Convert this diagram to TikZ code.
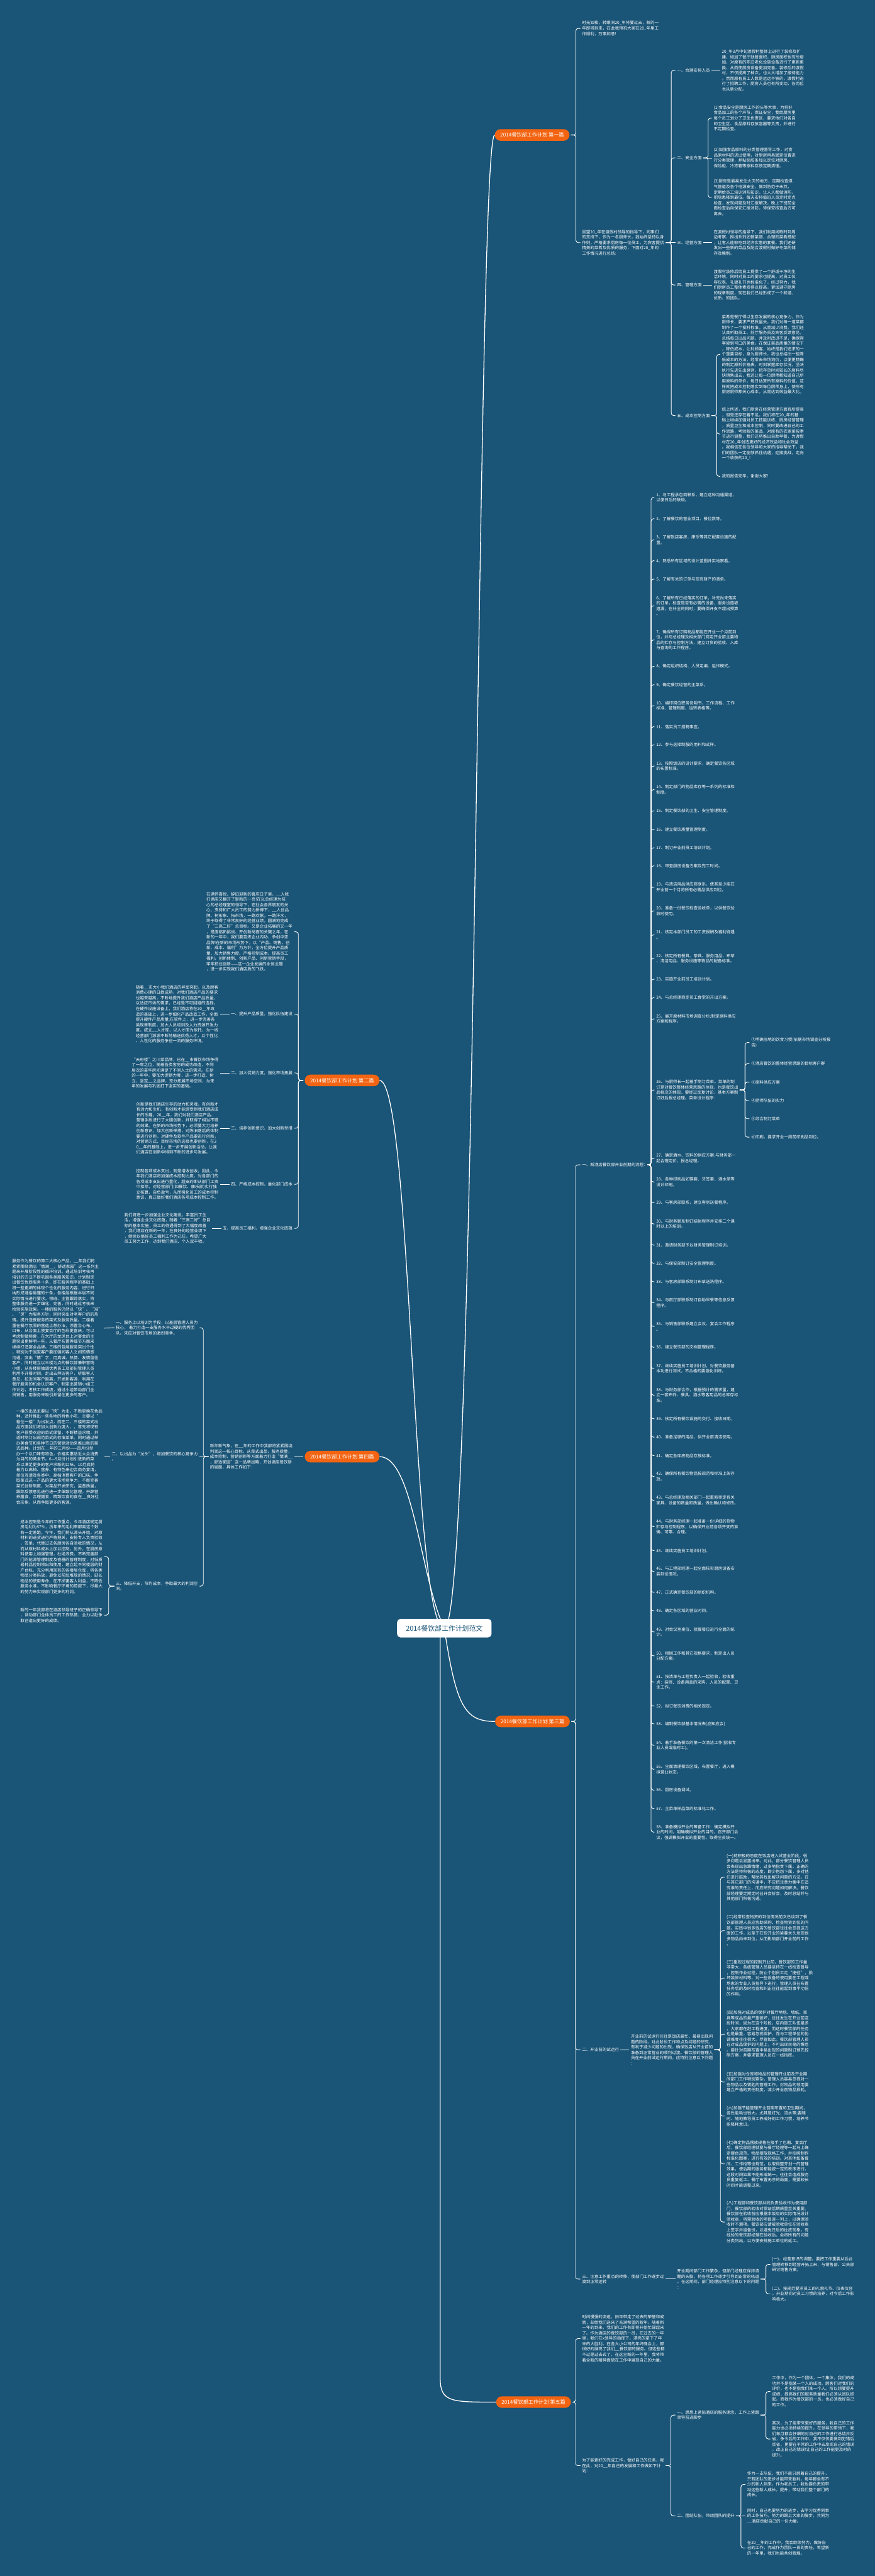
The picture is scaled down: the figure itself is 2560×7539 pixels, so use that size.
\documentclass[tikz,border=0pt]{standalone}
\usepackage{fontspec}
\newfontfamily\cjk{Noto Sans CJK SC}
\usetikzlibrary{calc}
\pgfdeclarelayer{bg}
\pgfsetlayers{bg,main}
\definecolor{bgc}{RGB}{26,84,118}
\definecolor{org}{RGB}{243,100,18}
\newcommand\linkR[3]{\draw[br] ([xshift=4pt]#1.east) -- (#2 |- #1.east) -- (#2 |- #3.west) -- ([xshift=-5pt]#3.west);}
\newcommand\linkL[3]{\draw[br] ([xshift=-4pt]#1.west) -- (#2 |- #1.west) -- (#2 |- #3.east) -- ([xshift=5pt]#3.east);}
\newcommand\dirR[2]{\draw[br] ([xshift=4pt]#1.east) -- ([xshift=-5pt]#2.west);}
\newcommand\dirL[2]{\draw[br] ([xshift=-4pt]#1.west) -- ([xshift=5pt]#2.east);}
\begin{document}
\begin{tikzpicture}[x=1pt,y=-1pt,
 txt/.style={font=\cjk\fontsize{12}{15.7}\selectfont,text=white,align=left,inner sep=0pt},
 tR/.style={txt,anchor=west},
 tL/.style={txt,anchor=east},
 hub/.style={fill=org,text=white,rounded corners=17pt,minimum height=34pt,inner xsep=16pt,inner ysep=0pt,font=\cjk\fontsize{15}{18}\selectfont},
 rootn/.style={fill=white,text=bgc,rounded corners=10pt,minimum height=54pt,inner xsep=26pt,font=\cjk\fontsize{20}{24}\selectfont},
 br/.style={draw=white,line width=1.6pt,rounded corners=7pt},
 mainln/.style={draw=white,line width=2.4pt}]
\begin{pgfonlayer}{bg}
\fill[bgc] (0,0) rectangle (2560,7539);
\end{pgfonlayer}
\useasboundingbox (0,0) rectangle (2560,7539);

% ---------------- root and hubs
\node[rootn] (root) at (1300,4765) {2014餐饮部工作计划范文};
\node[hub] (h1) at (1557,395) {2014餐饮部工作计划 第一篇};
\node[hub] (h3) at (1558,5038) {2014餐饮部工作计划 第三篇};
\node[hub] (h5) at (1561,7030) {2014餐饮部工作计划 第五篇};
\node[hub] (h2) at (1001,3162) {2014餐饮部工作计划 第二篇};
\node[hub] (h4) at (1001,4263) {2014餐饮部工作计划 第四篇};

% ---------------- section 1
\coordinate (b1) at (1685,0);
\coordinate (b1b) at (1964,0);
\coordinate (b12) at (2072,0);
\coordinate (b15) at (2097,0);
\node[tR] (s1a) at (1703,83) {时光如梭，转眼间20\_年将要过去，新的一\\年即将到来，在此我预祝大家在20\_年里工\\作顺利，万事如意!};
\node[tR] (s1b) at (1703,710) {回望20\_年在渡假村领导的指导下，同事们\\的支持下，作为一名厨师长，我始终坚持以身\\作则，严格要求厨房每一位员工，为宾客提供\\精美的菜肴及优质的服务，下面对20\_年的\\工作情况进行总结:};
\node[tR] (l11) at (1981,206) {一、合理安排人员};
\node[tR] (l12) at (1981,462) {二、安全方面};
\node[tR] (l13) at (1981,710) {三、经营方面};
\node[tR] (l14) at (1981,834) {四、管理方面};
\node[tR] (l15) at (1981,1216) {五、成本控制方面};
\node[tR] (d11) at (2112,206) {20\_年3月中旬渡假村整体上进行了装修及扩\\建，增加了餐厅就餐面积，厨房面积也有所增\\加，对原有的陈旧老化设施设备进行了更新更\\换，从而使厨房设备更加完善。装修后的渡假\\村，不仅提高了档次，也大大增加了接待能力\\。然而原有员工人数是远远不够的，渡假村进\\行了招聘工作，厨房人员也有所变动，各岗位\\也从新分配。};
\node[tR] (d12a) at (2088,346) {(1)食品安全是厨房工作的头等大事，为把好\\食品加工的各个环节，保证安全，我给厨房里\\每个员工划分了卫生负责区，要求他们对各自\\的卫生区、食品原料存放容器等负责，并进行\\不定期检查。};
\node[tR] (d12b) at (2088,462) {(2)加强食品原料的分类管理督导工作，对食\\品原材料的进出使用，对厨房用具固定位置进\\行分类管理，并粘贴胶条加以定位对厨房、\\保险柜、冷冻箱等原料存放定期清理。};
\node[tR] (d12c) at (2088,578) {(3)厨房是最易发生火灾的地方，定期检查煤\\气管道及各个电源安全，做到防范于未然，\\定期给员工培训消防知识，让人人都做消防，\\把隐患降到最低。每天安排值班人员定时定点\\检查，发现问题及时汇报解决，晚上下班前全\\面检查后向保安汇报消防，待保安核查后方可\\离去。};
\node[tR] (d13) at (2088,710) {在渡假村领导的指导下，我们利用闲暇时到周\\边考察，推出系列团餐菜谱，合理的菜肴搭配\\，让客人能够吃到经济实惠的套餐。我们还研\\发出一些新的菜品及配合渡假村做好冬菜的储\\存及腌制。};
\node[tR] (d14) at (2088,834) {渡假村装修后给员工提供了一个舒适干净的生\\活环境，同时对员工的要求也提高，对员工仪\\容仪表、礼貌礼节也标准化了，经过努力，我\\们厨房员工整体素质得以提高，更加遵守厨房\\的规章制度，现在我们已经形成了一个和谐、\\优质、的团队。};
\node[tR] (d15a) at (2112,1037) {菜肴是餐厅得以生存发展的核心竞争力，作为\\厨师长，要求严把质量关。我们对每一道菜都\\制作了一个投料标准，从而减少浪费。我们还\\认真听取员工、前厅服务员及宾客反馈意见，\\总结每日出品问题，并及时改进不足，确保宾\\客尝到可口的美食。在保证菜品质量的情况下\\，降低成本，让利顾客，始终是我们追求的一\\个重要目标，身为厨师长，我也总结出一些降\\低成本的方法，经常去市场询价，以便更精确\\的制定原料价格表，时刻掌握库存状况，坚决\\执行先进先出原则，把存货时间较长的原料尽\\快销售出去，我还让每一位厨师都知道自己所\\用原料的单价，每日估算所有原料的价值，这\\样就把成本控制落实到每位厨师身上，使所有\\厨房厨师都关心成本，从而达到效益最大化。};
\node[tR] (d15b) at (2112,1270) {综上所述，我们厨房在经营管理方面有所提高\\，但是还存在着不足。我们将在20\_年的基\\础上继续加强对员工技能训练、厨房经营管理\\，质量卫生和成本控制，同时要改进自己的工\\作思路，考验新的菜品，对原有的农家菜按季\\节进行调整，我们还将推出自助早餐，为渡假\\村在20\_年创造更好的经济效益和社会效益\\。我相信在各位领导和大家的指导帮助下，我\\们的团队一定能够抓住机遇，迎接挑战，走向\\一个收获的20\_!};
\node[tR] (d15c) at (2112,1394) {我的报告完毕，谢谢大家!};

% ---------------- section 3
\coordinate (b3) at (1684,0);
\coordinate (b31) at (1905,0);
\coordinate (b26) at (2180,0);
\coordinate (b32) at (2108,0);
\coordinate (b33) at (2241,0);
\node[tR] (l31) at (1703,3409) {一、新酒店餐饮部开业前期的流程：};
\node[tR] (i1) at (1920,1456) {1、与工程承包商联系，建立这种沟通渠道，\\以便日后的联络。};
\node[tR] (i2) at (1920,1518) {2、了解餐饮的营业项目、餐位数等。};
\node[tR] (i3) at (1920,1580) {3、了解饭店客房、康乐等其它配套设施的配\\置。};
\node[tR] (i4) at (1920,1641) {4、熟悉所有区域的设计蓝图并实地察看。};
\node[tR] (i5) at (1920,1695) {5、了解有关的订单与现有财产的清单。};
\node[tR] (i6) at (1920,1773) {6、了解所有已经落实的订单，补充尚未落实\\的订单，检查是否有必需的设备、服务设施被\\遗漏，在补全的同时，要确保开支不超出预算\\。};
\node[tR] (i7) at (1920,1873) {7、确保所有订购物品都能在开业一个月前到\\位，并与总经理及相关部门商定开业前主要物\\品的贮存与控制方法，建立订货的验收、入库\\与查询的工作程序。};
\node[tR] (i8) at (1920,1950) {8、确定组织结构、人员定编、运作模式。};
\node[tR] (i9) at (1920,2004) {9、确定餐饮经营的主菜系。};
\node[tR] (i10) at (1920,2065) {10、编印岗位职务说明书、工作流程、工作\\标准、管理制度、运转表格等。};
\node[tR] (i11) at (1920,2127) {11、落实员工招聘事宜。};
\node[tR] (i12) at (1920,2180) {12、参与选择制服的用料和式样。};
\node[tR] (i13) at (1920,2242) {13、按照饭店的设计要求，确定餐饮各区域\\的布置标准。};
\node[tR] (i14) at (1920,2311) {14、制定部门的物品库存等一系列的标准和\\制度。};
\node[tR] (i15) at (1920,2373) {15、制定餐饮部的卫生、安全管理制度。};
\node[tR] (i16) at (1920,2427) {16、建立餐饮质量管理制度。};
\node[tR] (i17) at (1920,2481) {17、制订开业前员工培训计划。};
\node[tR] (i18) at (1920,2534) {18、审查厨房设备方案及完工时间。};
\node[tR] (i19) at (1920,2596) {19、与清洁用品供应商联系，使其至少能在\\开业前一个月将所有必需品供应到位。};
\node[tR] (i20) at (1920,2666) {20、准备一份餐饮检查验收单，以供餐饮验\\收时使用。};
\node[tR] (i21) at (1920,2736) {21、核定本部门员工的工资报酬及福利待遇\\。};
\node[tR] (i22) at (1920,2805) {22、核定所有餐具、茶具、服务用品、布草\\、清洁用品、服务设施等物品的配备标准。};
\node[tR] (i23) at (1920,2866) {23、实施开业前员工培训计划。};
\node[tR] (i24) at (1920,2920) {24、与总经理商定员工食堂的开出方案。};
\node[tR] (i25) at (1920,2982) {25、展开原材料市场调查分析;制定原料供应\\方案和程序。};
\node[tR] (i26) at (1920,3190) {26、与厨师长一起着手制订菜单。菜单的制\\订是对餐饮整体经营思路的体现，也是餐饮出\\品档次的体现，要经过反复讨论，基本方案制\\订好后报总经理。菜单设计程序：};
\node[tR] (m1) at (2198,3051) {①明确当地的饮食习惯(依据市场调查分析报\\告)};
\node[tR] (m2) at (2198,3113) {②酒店餐饮的整体经营思路的目标客户群};
\node[tR] (m3) at (2198,3167) {③原料供应方案};
\node[tR] (m4) at (2198,3221) {④厨师队伍的实力};
\node[tR] (m5) at (2198,3274) {⑤综合制订菜单};
\node[tR] (m6) at (2198,3328) {⑥印刷。要求开业一周前印刷品到位。};
\node[tR] (i27) at (1920,3390) {27、确定酒水、饮料的供应方案;与财务部一\\起合理定价，报总经理。};
\node[tR] (i28) at (1920,3459) {28、各种印刷品如筷套、牙签套、酒水单等\\设计印刷。};
\node[tR] (i29) at (1920,3520) {29、与客房部联系，建立客房送餐程序。};
\node[tR] (i30) at (1920,3582) {30、与财务联系制订结帐程序并安排二个课\\时以上的培训。};
\node[tR] (i31) at (1920,3644) {31、邀请财务部予以财务管理制订培训。};
\node[tR] (i32) at (1920,3697) {32、与保安部制订安全管理制度。};
\node[tR] (i33) at (1920,3751) {33、与客房部联系制订布草送洗程序。};
\node[tR] (i34) at (1920,3813) {34、与前厅部联系制订自助早餐等信息反馈\\程序。};
\node[tR] (i35) at (1920,3882) {35、与销售部联系建立会议、宴会工作程序\\。};
\node[tR] (i36) at (1920,3943) {36、建立餐饮部的文档管理程序。};
\node[tR] (i37) at (1920,4005) {37、继续实施员工培训计划。对餐饮服务基\\本功进行测试，不合格的要强化训练。};
\node[tR] (i38) at (1920,4083) {38、与财务部合作，根据预计的需求量，建\\立一套布件、餐具、酒水等客用品的总库存标\\准。};
\node[tR] (i39) at (1920,4152) {39、核定所有餐饮设施的交付、接收日期。};
\node[tR] (i40) at (1920,4206) {40、准备足够的用品，供开业前清洁使用。};
\node[tR] (i41) at (1920,4260) {41、确定各库房物品存放标准。};
\node[tR] (i42) at (1920,4321) {42、确保所有餐饮物品按规范和标准上架存\\放。};
\node[tR] (i43) at (1920,4391) {43、与总经理及相关部门一起重新审定有关\\家具、设备的数量和质量，做出确认和修改。};
\node[tR] (i44) at (1920,4468) {44、与财务部经理一起准备一份详细的货物\\贮存与控制程序，以确保开业前各项开支的准\\确、可靠、合理。};
\node[tR] (i45) at (1920,4538) {45、继续实施员工培训计划。};
\node[tR] (i46) at (1920,4599) {46、与工程部经理一起全面核实厨房设备安\\装到位情况。};
\node[tR] (i47) at (1920,4660) {47、正式确定餐饮部的组织机构。};
\node[tR] (i48) at (1920,4714) {48、确定各区域的营业时间。};
\node[tR] (i49) at (1920,4776) {49、对会议室桌位、就餐餐位进行全面的统\\计。};
\node[tR] (i50) at (1920,4846) {50、根据工作和其它规格要求，制定出人员\\分配方案。};
\node[tR] (i51) at (1920,4923) {51、按清单与工程负责人一起验收，验收重\\点：装修、设备用品的采购、人员的配置、卫\\生工作。};
\node[tR] (i52) at (1920,4993) {52、拟订餐饮消费的相关规定。};
\node[tR] (i53) at (1920,5045) {53、编制餐饮部基本情况表(应知应会)};
\node[tR] (i54) at (1920,5108) {54、着手准备餐饮的第一次清洁工作(招收专\\业人员或临时工)。};
\node[tR] (i55) at (1920,5178) {55、全面清理餐饮区域，布置餐厅，进入模\\拟营业状态。};
\node[tR] (i56) at (1920,5239) {56、厨房设备调试。};
\node[tR] (i57) at (1920,5293) {57、主菜单样品菜的标准化工作。};
\node[tR] (i58) at (1920,5362) {58、准备模拟开业的筹备工作：确定模拟开\\业的时间，明确模拟开业的目的，召开部门会\\议，强调模拟开业的重要性。取得全员统一。};

\node[tR] (l32) at (1703,5999) {二、开业前的试运行};
\node[tR] (d32) at (1846,5999) {开业前的试运行往往是饭店最忙、最易出现问\\题的阶段。对此阶段工作特点及问题的研究，\\有利于减少问题的出现，确保饭店从开业前的\\准备到正常营业的顺利过渡。餐饮部的管理人\\员在开业前试运行期间，应特别注意以下问题\\：};
\node[tR] (c1) at (2126,5494) {(一)持积极的态度在饭店进入试营业阶段，很\\多问题会显露出来。对此，部分餐饮管理人员\\会表现出急躁情绪，过多地指责下属。正确的\\方法是持积极的态度，即少抱怨下属，多对他\\们进行鼓励，帮助其找出解决问题的方法。在\\与其它部门的沟通中，不应把注意力集中在追\\究谁的责任上，而应研究问题如何解决。餐饮\\部经理要定期定时召开会析会，及时总结并与\\其他部门积极沟通。};
\node[tR] (c2) at (2126,5650) {(二)经常检查物资的到位情况前文已谈到了餐\\饮部管理人员应协助采购、检查物资到位的问\\题。实践中很多饭店的餐饮部往往会忽视这方\\面的工作，以至于在快开业的紧要关头发现很\\多物品尚未到位，从而影响部门开业前的工作\\。};
\node[tR] (c3) at (2126,5789) {(三)重视过程的控制开业前，餐饮部的工作量\\非常大，各级管理人员要坚持在一线检查督导\\，控制作业过程，防止个别员工走“捷径”，损\\坏装修材料等。对一些设备的使用要在工程或\\场家的专业人员指导下进行。管理人员在布置\\任务后的及时检查和纠正往往能起到事半功倍\\的作用。};
\node[tR] (c4) at (2126,5953) {(四)加强对成品的保护对餐厅地毯、墙纸、家\\具等成品的最严重破坏，往往发生在开业前这\\段时间，因为在这个阶段，店内施工队伍最多\\，大家都在赶工程进度，而这时餐饮部的任务\\也是最重，容易忽视保护，而与工程单位的协\\调难度往往很大。尽管如此，餐饮部管理人员\\在对成品保护的问题上，不可出现丝毫的懈怠\\。要针对前期布置中易出现的问题制订预先控\\制方案，并要求管理人员在一线指挥。};
\node[tR] (c5) at (2126,6093) {(五)加强对仓库和物品的管理开业前及开业期\\间部门工作特别繁杂，管理人员容易忽视对一\\些物品以及钥匙的管理工作，对物品的领用要\\建立严格的责任制度，减少开业前物品损耗。};
\node[tR] (c6) at (2126,6193) {(六)加强节能管理开业前期布置和卫生期间，\\各处能耗也很大。尤其是灯光、流水等;要随\\时、随地教导员工养成好的工作习惯，培养节\\能降耗意识。};
\node[tR] (c7) at (2126,6333) {(七)确定物品摆放规格在接手了包厢、宴会厅\\后，餐饮部经理就要与餐厅经理等一起马上确\\定摆台规范、物品摆放规格工作，并拍照制作\\标准化图案，进行有效的培训。对其他如备餐\\间、工作柜等也规范，以取得整齐划一的管理\\效果，使后期的服务都能按一定的秩序进行。\\这段时间如果不能形成统一，往往会造成服务\\员重复返工、餐厅布置无序的局面，需要较长\\时间才能调整过来。};
\node[tR] (c8) at (2126,6503) {(八)工程部和餐饮部共同负责验收作为使用部\\门，餐饮部的验收对保证后期质量至关重要。\\餐饮部在验收前应根据本饭店的实际情况设计\\验收表，将需验收的项目逐一列上，以确保验\\收时不漏项。餐饮部应请被验收单位在验收表\\上签字并留备份，以避免日后的扯皮现象。有\\经验的餐饮部经理在验收后，会将所有的问题\\分类列出，以方便安排施工单位的返工。};

\node[tR] (l33) at (1703,6670) {三、注意工作重点的转移，使部门工作逐步过\\渡到正常运转};
\node[tR] (d33) at (1981,6670) {开业期间部门工作繁杂，但部门经理应保持清\\醒的头脑，将各项工作逐步引导到正常的轨道\\。在这期间，部门经理应特别注意以下的问题\\：};
\node[tR] (e1) at (2259,6627) {(一)、经营意识的调整。要把工作重要从后台\\管理转移到经营开拓上来，与销售部、公关部\\研讨销售方案。};
\node[tR] (e2) at (2259,6713) {(二)、按规范要求员工的礼貌礼节、仪表仪容\\。开业期间对员工习惯的培养，对今后工作影\\响极大。};

% ---------------- section 5
\coordinate (b5) at (1684,0);
\coordinate (b5b) at (1963,0);
\coordinate (b51) at (2241,0);
\coordinate (b52) at (2168,0);
\node[tR] (s5a) at (1703,6844) {时间慢慢的流逝，旧年带走了过去的荣誉和成\\就，却给我们送来了充满希望的新年。随着新\\一年的到来，我们的工作有即将开始忙碌起来\\了。作为酒店的餐饮部的一员，在过去的一年\\里，我们在x领导的指挥下，漂亮的拿下了年\\末的大胜利。在各大小公司的年终晚会上，都\\很好的展现了我们\_\_餐饮部的服务。但这些都\\不过是过去式了，在这全新的一年里，我将带\\着全新的精神面貌在工作中展现自己的力量。};
\node[tR] (s5b) at (1703,7216) {为了能更好的完成工作，做好自己的任务，我\\在此，对20\_\_年自己的发展和工作做如下计\\划：};
\node[tR] (l51) at (1981,7068) {一、思想上紧贴酒店的服务理念，工作上紧跟\\领导前进脚步};
\node[tR] (f1) at (2259,6999) {工作中，作为一个团体，一个集体，我们的成\\功并不是指某一个人的成功。顾客们对我们的\\评价，也不是指我们某一个人。所以想要提升\\成绩，提高我们的服务质量我们必须从团队抓\\起。而我作为餐饮部的一员，也必须做好自己\\的工作。};
\node[tR] (f2) at (2259,7138) {其次，为了能带来更好的服务，我自己的工作\\能力也必须持续的提升。在领导的带领下，我\\们每月都会仔细的对自己的工作进行总结并反\\省，争今后的工作中，我不仅仅要做到犯错后\\反省，更要在平常的工作中去发现自己的错误\\，改正自己的错误!让自己的工作能更及时的\\提升。};
\node[tR] (l52) at (1981,7363) {二、团结队伍，带动团队的提升};
\node[tR] (g1) at (2186,7271) {作为一支队伍，我们不能只顾着自己的提升，\\只有团队的进步才能带来胜利。每年都会有不\\少的新人到来，作为老员工，我也要负责的带\\动这些新人成长，提升，带动我们整个部门的\\成长。};
\node[tR] (g2) at (2186,7363) {同时，自己也要努力的进步，去学习优秀同事\\的工作技巧，努力的跟上大家的脚步，共同为\\\_\_酒店贡献自己的一份力量。};
\node[tR] (g3) at (2186,7457) {在20\_\_年的工作中，我会继续努力，做好自\\己的工作，完成作为团队一员的责任，希望新\\的一年里，我们也能共创辉煌。};

% ---------------- section 2 (left)
\coordinate (b2) at (873,0);
\node[tL] (s2i) at (856,2727) {在满怀喜悦、辞旧迎新的喜庆日子里，\_\_人我\\们酒店又翻开了崭新的一页!在以总经理为核\\心的总经理室的领导下，在社会各界朋友的关\\心、支持和广大员工的努力拼搏下，\_\_人创品\\牌、树形象、拓市场，一路欢歌，一路汗水，\\终于取得了非常良好的经营业绩，圆满地完成\\了“三高二好”总目标。又是企业拓展的又一年\\，是面临新挑战、开创新局面的关键之年，在\\新的一年中，我们要苦炼企业内功，争创中亚\\品牌!在新的市场形势下，以“产品、销售、创\\新、成本、福利”为方针，全方位提升产品质\\量、加大销售力度、严格控制成本、提高员工\\福利，创新体制、创新产品、创新营销手段，\\牢牢抓住创新——这一企业发展的永恒主题\\，进一步实现我们酒店质的飞跃。};
\node[tL] (l21) at (856,2968) {一、提升产品质量，强化队伍建设};
\node[tL] (l22) at (856,3140) {二、加大促销力度，强化市场拓展};
\node[tL] (l23) at (856,3302) {三、培养创新意识，加大创新举措};
\node[tL] (l24) at (856,3466) {四、严格成本控制，量化部门成本};
\node[tL] (l25) at (856,3595) {五、提高员工福利，增强企业文化底蕴};
\node[tL] (d21) at (639,2968) {随着\_\_市大小我们酒店的异军突起，以及顾客\\消费心理的日趋成熟，对我们酒店产品的要求\\也越来越高，不断地提升我们酒店产品质量，\\以适应市场的需求，已经是不可回避的选择。\\在硬件设施设备上，我们酒店将在20\_\_年改\\造的基础上，进一步细化产品改造工作，全面\\提升硬件产品质量;在软件上，进一步完善各\\类规章制度，加大人员培训及人力资源开发力\\度，成立\_\_人才库，以人才库为依托，为一线\\经营部门源源不断地输送优秀人才，以个性化\\、人性化的服务争创一流的服务环境。};
\node[tL] (d22) at (639,3140) {“天府楼”之川菜品牌，已在\_\_市餐饮市场争得\\了一席之位，随着各类客房的成功改造，不同\\层次的豪华房间满足了不同人士的需求。在新\\的一年中，要加大促销力度，进一步打造、树\\立、坚定\_\_之品牌，充分拓展市场空间，为来\\年的发展与巩固打下坚实的基础。};
\node[tL] (d23) at (639,3302) {创新是我们酒店生存的动力和灵魂，有创新才\\有活力和生机，有创新才能感受到我们酒店成\\长的乐趣，20\_\_年，我们对我们酒店产品、\\营销手段进行了大胆创新，并取得了相当不错\\的效果。在新的市场形势下，必须要大力培养\\创新意识，加大创新举措，对陈旧落后的体制\\要进行创新，对硬件及软件产品要进行创新，\\对营销方式、目标市场的选择也要创新，在2\\0\_\_年的基础上，进一步开展创新活动，让我\\们酒店在创新中得到不断的进步与发展。};
\node[tL] (d24) at (639,3466) {控制各项成本支出，就是增收创收，因此，今\\年我们酒店将加强成本控制力度，对各部门的\\各项成本支出进行量化，超支的即从部门工资\\中扣除，对经营部门(如餐饮、康乐部)实行独\\立核算，自负盈亏，从而强化员工的成本控制\\意识，真正做好我们酒店各项成本控制工作。};
\node[tL] (d25) at (616,3595) {我们将进一步加强企业文化建设，丰富员工生\\活，增强企业文化底蕴，随着“三高二好”总目\\标的基本实施，员工的待遇得到了大幅度改善\\，我们酒店在新的一年，在良好的经营业绩下\\，继续以搞好员工福利工作为己任，希望广大\\员工努力工作，达到我们酒店、个人双丰收。};

% ---------------- section 4 (left)
\coordinate (b4) at (595,0);
\coordinate (b43) at (318,0);
\node[tL] (s4) at (856,4263) {新年新气象，在\_\_年的工作中我部将紧紧围绕\\利润这一核心目标，从菜式出品，服务质量，\\成本控制，营销创新等方面着力打造“情满\_\_\\，舒适家园”这一品牌战略，开创酒店餐饮新\\的局面，具体工作如下：};
\node[tL] (l41) at (579,3886) {一、服务上以培训为手段，以基层管理人员为\\核心， 着力打造一支服务水平过硬的优秀团\\队。来应对餐饮市场的激烈竞争。};
\node[tL] (l42) at (579,4263) {二、以出品为“龙头”，增加餐饮的核心竞争力\\。};
\node[tL] (l43) at (579,4642) {三、降低开支，节约成本，争取最大的利润空\\间。};
\node[tL] (d41) at (300,3887) {服务作为餐饮的第二大核心产品，\_\_年我们将\\紧紧围绕酒店“情满\_\_，舒适家园”这一系列主\\题来开展阶段性的循环培训。通过培训考核再\\培训的方法不断巩固各类服务知识。计划制定\\出餐饮优质服务十条，即在服务程序的基础上\\将一些更细的体现个性化的服务内容，进行归\\纳形成通俗易懂的十条，各楼层根据本层不同\\实际情况进行要求。领班、主管跟踪落实，将\\整体服务进一步细化，完善，同时通过考核来\\检验实施效果。一楼的服务仍然以“快”、“准”\\、“灵”为服务方针，同时突出对老客户的的热\\情。提升送餐服务的菜式及服务质量。二楼着\\重在餐厅氛围的营造上想办法，添置台心布，\\口布，从台面上使宴会厅的色彩更喜庆，可以\\考虑制做椅套，在大厅的龙凤台上对宴会的主\\题突出更鲜明一些，从餐厅布置等细节方面来\\继续打造宴会品牌。三楼的包厢服务突出个性\\，特别对于固定客户要加强同客人之间的情感\\沟通，突出“情”字，用真诚、热情、友情留住\\客户，同时建立以三楼为点的餐饮部兼职营销\\小组，从各楼层抽调优秀员工及部份管理人员\\利用不开餐时间，走出去拜访客户，听取客人\\意见，拉近同客户距离，开发新客源，利用在\\餐厅服务的机会认识客户，制定出营销小组工\\作计划，考核工作成绩，通过小组带动部门全\\员销售，用服务来吸引并留住更多的客户。};
\node[tL] (d42) at (300,4263) {一楼的出品主要以“快”为主，不断更换花色品\\种，适时推出一些各地的特色小吃，主要以“\\稳住一楼”为出发点，而在二、三楼的菜式出\\品方面我们将加大创新力度大，，首先将现有\\客户很受欢迎的菜式保留，不断精益求精，并\\适时制订出规范菜式的标准菜单。同时通过举\\办美食节和各种节日的营销活动来推出新的菜\\式品种。计划在\_\_年的三月份——四月份举\\办一个以口味有特色，价格实惠贴近大众消费\\为目的的美食节。6—9月份计划引进新的菜\\系以满足更多的客户求新的口味，10月底将\\着力以高档、营养、有特色来迎合商务宴请，\\单位互请及各类中、高档消费客户的口味。争\\取菜式这一产品的更大市场竞争力，不断完善\\菜式创新制度，对菜品开发研究，监督质量，\\跟踪反馈意见进行进一步细致化管理，开辟营\\养膳食，合理膳食，精致饮食的食在\_\_良好社\\会形象，从而争取更多的客源。};
\node[tL] (d43a) at (300,4556) {成本控制是今年的工作重点，今年酒店规定厨\\房毛利为57\%，历年来的毛利率都离这个数\\有一定差距。今年，我们将从源头开始，对原\\材料的进货进行严格把关，安排专人负责验收\\，签单，代替过去各厨房各自验收的情况，从\\而从原材料成本上加以控制，另外，在厨房原\\料使用上加强管理，杜绝浪费。不断完善部\\门的能源管理制度及瓷器的管理制度，对低质\\易耗品控制领出和使用，建立起不同楼层的财\\产台帐，充分利用现有的各楼层仓库，将各类\\物品分类码放，避免以前乱堆放的情况，延长\\物品的使用寿命，在不损害客人利益，不降低\\服务水准，不影响餐厅环境的前提下，尽最大\\的努力来实现部门更多的利润。};
\node[tL] (d43b) at (300,4727) {新的一年我部将在酒店领导班子的正确领导下\\，调动部门全体员工的工作热情，全力以赴争\\取创造出更好的成绩。};

% ---------------- connectors
\begin{pgfonlayer}{bg}
% root to hubs
\draw[mainln] (root.center) .. controls (1395,4765) and (1395,395) .. (h1.west);
\draw[mainln] (root.center) .. controls (1335,4995) and (1360,5038) .. (h3.west);
\draw[mainln] (1288,4765) -- (1288,6960) .. controls (1288,7030) and (1320,7030) .. (h5.west);
\draw[mainln] (root.center) .. controls (1205,4765) and (1205,3162) .. (h2.east);
\draw[mainln] (root.center) .. controls (1230,4620) and (1210,4263) .. (h4.east);
% section 1
\linkR{h1}{b1}{s1a} \linkR{h1}{b1}{s1b}
\linkR{s1b}{b1b}{l11} \linkR{s1b}{b1b}{l12} \dirR{s1b}{l13} \linkR{s1b}{b1b}{l14} \linkR{s1b}{b1b}{l15}
\dirR{l11}{d11} \dirR{l13}{d13} \dirR{l14}{d14}
\linkR{l12}{b12}{d12a} \dirR{l12}{d12b} \linkR{l12}{b12}{d12c}
\linkR{l15}{b15}{d15a} \linkR{l15}{b15}{d15b} \linkR{l15}{b15}{d15c}
% section 3
\linkR{h3}{b3}{l31} \linkR{h3}{b3}{l32} \linkR{h3}{b3}{l33}
\foreach \k in {1,...,58} {\linkR{l31}{b31}{i\k}}
\foreach \k in {1,...,6} {\linkR{i26}{b26}{m\k}}
\dirR{l32}{d32}
\foreach \k in {1,...,8} {\linkR{d32}{b32}{c\k}}
\dirR{l33}{d33}
\linkR{d33}{b33}{e1} \linkR{d33}{b33}{e2}
% section 5
\linkR{h5}{b5}{s5a} \linkR{h5}{b5}{s5b}
\linkR{s5b}{b5b}{l51} \linkR{s5b}{b5b}{l52}
\linkR{l51}{b51}{f1} \linkR{l51}{b51}{f2}
\linkR{l52}{b52}{g1} \dirR{l52}{g2} \linkR{l52}{b52}{g3}
% section 2
\linkL{h2}{b2}{s2i} \linkL{h2}{b2}{l21} \linkL{h2}{b2}{l22} \linkL{h2}{b2}{l23} \linkL{h2}{b2}{l24} \linkL{h2}{b2}{l25}
\dirL{l21}{d21} \dirL{l22}{d22} \dirL{l23}{d23} \dirL{l24}{d24} \dirL{l25}{d25}
% section 4
\dirL{h4}{s4}
\linkL{s4}{b4}{l41} \dirL{s4}{l42} \linkL{s4}{b4}{l43}
\dirL{l41}{d41} \dirL{l42}{d42}
\linkL{l43}{b43}{d43a} \linkL{l43}{b43}{d43b}
\end{pgfonlayer}
\end{tikzpicture}
\end{document}
